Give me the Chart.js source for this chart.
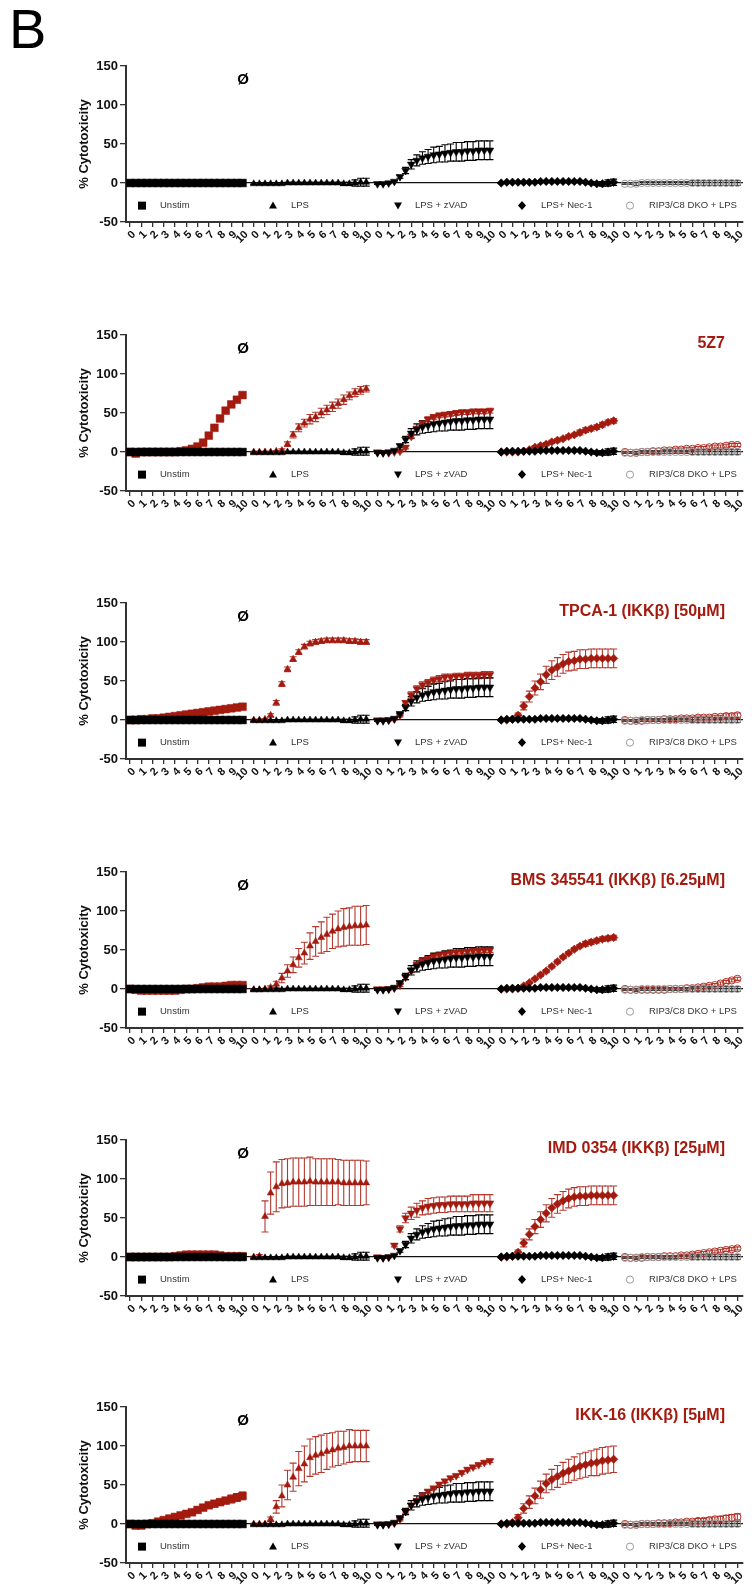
<!DOCTYPE html>
<html>
<head>
<meta charset="utf-8">
<script src="https://cdn.jsdelivr.net/npm/chart.js@4.4.1/dist/chart.umd.min.js"></script>
<style>
  body { margin: 0; width: 755px; height: 1585px; overflow: hidden; background: #fff; position: relative;
         font-family: "Liberation Sans", Arial, sans-serif; }
  .panel { position: absolute; left: 0; }
  .letter { position: absolute; left: 9px; top: -4px; font-size: 56px; color: #000; }
  .ctrl { position: absolute; left: 243px; font-weight: bold; font-size: 15px; transform: translate(-50%, -50%); }
  .drug { position: absolute; right: 30px; font-weight: bold; font-size: 16px; color: #a31a0f; transform: translateY(-50%); }
</style>
</head>
<body>
<div class="letter">B</div>
<div id="wrap"></div>
<script>
// sampling times within each block (hours) and the axis tick labels
const hours = [0, 0.5, 1, 1.5, 2, 2.5, 3, 3.5, 4, 4.5, 5, 5.5, 6, 6.5, 7, 7.5, 8, 8.5, 9, 9.5, 10];
const tickHours = [0, 1, 2, 3, 4, 5, 6, 7, 8, 9, 10];
const yTicks = [-50, 0, 50, 100, 150];
const groupNames = ['Unstim', 'LPS', 'LPS + zVAD', 'LPS+ Nec-1', 'RIP3/C8 DKO + LPS'];
const drugNames = ['5Z7', 'TPCA-1 (IKKβ) [50µM]', 'BMS 345541 (IKKβ) [6.25µM]', 'IMD 0354 (IKKβ) [25µM]', 'IKK-16 (IKKβ) [5µM]'];

// untreated control (black, same in every panel)
const ctlUnstim = [0,0,0,0,0,0,0,0,0,0,0,0,0,0,0,0,0,0,0,0,0];
const ctlUnstimErr = [0,0,0,0,0,0,0,0,0,0,0,0,0,0,0,0,0,0,0,0,0];
const ctlLps = [-1,-1,-1,-1,-1,-1,0,0,0,0,0,0,0,0,0,0,-1,-1,0,1,1];
const ctlLpsErr = [1,1,1,1,1,1,1,1,1,1,1,1,1,1,1,1,2,2,4,5,5];
const ctlZvad = [-1,-1,0,2,8,16,24,29,32,34,36,37,38,39,40,40,41,41,42,42,42];
const ctlZvadErr = [1,1,1,1,2,4,6,7,8,9,10,10,11,11,12,12,12,12,12,12,12];
const ctlNec = [0,1,1,1,1,1,1,2,2,2,2,2,2,2,2,1,0,-1,-1,0,1];
const ctlNecErr = [1,1,1,1,1,1,1,1,1,1,1,1,1,1,1,1,2,2,3,4,4];
const ctlDko = [-1,-1,-1,0,0,0,0,0,0,0,0,0,0,0,0,0,0,0,0,0,0];
const ctlDkoErr = [1,1,2,2,2,2,2,2,2,2,2,2,3,3,3,3,3,3,3,3,3];

// 5Z7
const z7Unstim = [0,-2,0,0,0,0,0,0,0,1,2,4,7,12,21,31,43,53,61,67,73];
const z7UnstimErr = [1,1,1,1,1,1,1,1,1,1,1,1,1,2,2,2,3,3,3,3,3];
const z7Lps = [0,0,0,0,1,2,10,22,31,37,42,45,50,54,58,62,67,72,76,79,81];
const z7LpsErr = [1,1,1,1,1,2,3,4,5,5,6,6,6,6,6,6,6,5,5,5,4];
const z7Zvad = [0,-1,-1,0,1,6,20,30,37,42,45,47,48,49,50,51,51,52,52,52,53];
const z7ZvadErr = [1,1,1,1,1,2,3,3,3,3,3,3,3,3,3,3,3,3,3,3,3];
const z7Nec = [0,0,0,0,1,3,6,8,10,13,15,17,20,22,25,28,30,32,35,38,40];
const z7NecErr = [1,1,1,1,1,1,2,2,2,2,2,2,2,2,3,3,3,3,3,3,3];
const z7Dko = [0,-1,-1,0,0,1,1,2,2,3,3,4,4,5,5,6,7,7,8,9,9];
const z7DkoErr = [1,1,1,1,1,1,1,1,1,2,2,2,2,2,2,2,2,2,2,2,2];

// TPCA-1
const tpUnstim = [0,0,1,1,2,2,3,4,5,6,7,8,9,10,11,12,13,14,15,16,17];
const tpUnstimErr = [1,1,1,1,1,1,1,1,1,1,1,1,1,2,2,2,2,2,2,2,2];
const tpLps = [0,0,1,6,22,46,65,78,87,94,98,100,101,102,102,102,102,101,101,100,100];
const tpLpsErr = [1,1,1,2,3,3,3,3,3,3,3,3,3,3,3,3,3,3,3,3,3];
const tpZvad = [0,0,0,1,6,22,32,40,45,48,51,53,55,55,56,56,57,57,57,58,58];
const tpZvadErr = [1,1,1,1,2,3,4,4,4,4,4,4,4,4,4,4,4,4,4,4,4];
const tpNec = [0,0,1,6,18,30,41,49,58,64,68,72,75,76,78,78,79,79,79,79,79];
const tpNecErr = [1,1,2,3,5,7,9,10,11,12,12,12,12,12,12,12,12,12,12,12,12];
const tpDko = [0,-1,-1,-1,0,0,0,1,1,1,2,2,2,3,3,3,4,4,5,5,6];
const tpDkoErr = [1,1,1,1,1,1,1,1,2,2,2,2,2,2,2,2,2,2,3,3,3];

// BMS 345541
const bmUnstim = [0,-1,-2,-2,-2,-2,-2,-2,-2,-1,0,0,1,2,3,3,3,4,5,5,5];
const bmUnstimErr = [1,1,1,1,1,1,1,1,1,1,1,1,1,1,1,1,1,1,1,1,1];
const bmLps = [-1,-1,0,2,6,14,23,31,40,46,55,61,66,70,74,77,79,80,81,81,82];
const bmLpsErr = [1,1,1,2,4,6,8,10,12,14,17,19,20,22,22,23,24,24,25,25,25];
const bmZvad = [0,0,0,1,5,15,24,31,36,39,42,44,45,46,47,48,48,49,49,50,50];
const bmZvadErr = [1,1,1,1,2,3,3,3,3,3,3,3,3,3,3,3,3,3,3,3,3];
const bmNec = [0,0,0,1,4,8,13,18,23,29,35,41,46,51,55,58,60,62,64,65,66];
const bmNecErr = [1,1,1,1,1,1,1,2,2,2,2,2,2,2,2,3,3,3,3,3,3];
const bmDko = [0,-1,-1,-1,-1,-1,-1,-1,0,0,0,1,1,2,3,4,5,7,9,11,13];
const bmDkoErr = [1,1,1,1,1,1,1,1,1,1,1,1,1,1,2,2,2,2,2,2,2];

// IMD 0354
const imUnstim = [0,0,0,0,0,0,0,0,1,2,3,3,3,3,3,3,2,1,1,1,1];
const imUnstimErr = [1,1,1,1,1,1,1,1,1,1,1,1,1,1,1,1,1,1,1,1,1];
const imLps = [0,1,52,82,90,94,95,96,96,96,97,96,96,96,96,96,95,95,95,95,95];
const imLpsErr = [1,2,20,27,32,31,31,31,31,31,31,30,30,30,30,29,29,29,29,29,28];
const imZvad = [0,-1,0,15,36,50,56,60,63,65,66,67,67,68,68,68,68,69,69,69,69];
const imZvadErr = [1,1,1,2,4,6,8,9,9,10,10,10,10,10,10,10,10,11,11,11,11];
const imNec = [0,0,1,6,18,29,39,48,56,63,68,72,75,77,78,78,79,79,79,79,79];
const imNecErr = [1,1,2,3,5,7,9,10,11,12,12,12,12,12,12,12,12,12,12,12,12];
const imDko = [0,-1,-1,-1,0,0,0,1,1,1,2,2,3,4,5,6,7,8,9,10,11];
const imDkoErr = [1,1,1,1,1,1,1,1,1,1,1,1,2,2,2,2,2,2,2,2,2];

// IKK-16
const ikUnstim = [0,-2,-2,0,1,3,5,7,9,11,13,15,18,21,24,26,28,30,32,34,36];
const ikUnstimErr = [1,1,1,1,1,1,1,2,2,2,2,2,3,3,3,4,4,4,5,5,5];
const ikLps = [0,0,0,6,22,36,50,60,71,77,85,88,90,93,95,97,98,100,100,100,100];
const ikLpsErr = [1,1,1,3,8,14,19,18,22,23,24,24,24,23,22,22,21,21,20,20,20];
const ikZvad = [0,0,0,1,6,16,24,30,37,42,46,51,55,59,62,66,70,73,76,79,81];
const ikZvadErr = [1,1,1,1,2,2,2,2,2,2,2,2,2,2,2,2,2,2,2,2,2];
const ikNec = [0,0,2,8,20,28,36,44,52,57,61,65,68,71,74,76,78,79,81,82,83];
const ikNecErr = [1,1,2,4,6,8,10,11,12,13,14,14,15,15,16,16,16,17,17,17,17];
const ikDko = [0,-1,-1,0,0,0,1,1,1,2,2,3,3,4,4,5,6,6,7,8,9];
const ikDkoErr = [1,1,1,1,1,1,1,1,2,2,2,2,2,3,3,3,3,4,4,4,4];

const ctlVals = [ctlUnstim, ctlLps, ctlZvad, ctlNec, ctlDko];
const ctlErrs = [ctlUnstimErr, ctlLpsErr, ctlZvadErr, ctlNecErr, ctlDkoErr];
const drugVals = [
  [z7Unstim, z7Lps, z7Zvad, z7Nec, z7Dko],
  [tpUnstim, tpLps, tpZvad, tpNec, tpDko],
  [bmUnstim, bmLps, bmZvad, bmNec, bmDko],
  [imUnstim, imLps, imZvad, imNec, imDko],
  [ikUnstim, ikLps, ikZvad, ikNec, ikDko]
];
const drugErrs = [
  [z7UnstimErr, z7LpsErr, z7ZvadErr, z7NecErr, z7DkoErr],
  [tpUnstimErr, tpLpsErr, tpZvadErr, tpNecErr, tpDkoErr],
  [bmUnstimErr, bmLpsErr, bmZvadErr, bmNecErr, bmDkoErr],
  [imUnstimErr, imLpsErr, imZvadErr, imNecErr, imDkoErr],
  [ikUnstimErr, ikLpsErr, ikZvadErr, ikNecErr, ikDkoErr]
];

// layout
const FONT = '"Liberation Sans", Arial, sans-serif';
const RED = '#a31a0f';
const RED_ERR = '#b3392f';
const GROUP_SPAN = 11;
const plotTops = [66, 335, 603, 872, 1140, 1407];
const PAD_TOP = 26, PLOT_H = 156, CANVAS_H = 250;
const legendMarkX = [142, 273, 398, 522, 630];
const legendTextX = [160, 291, 415, 541, 649];

const markers = [
  { pointStyle: 'rect', radius: 5.5, rotation: 0 },
  { pointStyle: 'triangle', radius: 4, rotation: 0 },
  { pointStyle: 'triangle', radius: 4.5, rotation: 180 },
  { pointStyle: 'rectRot', radius: 4.2, rotation: 0 },
  { pointStyle: 'circle', radius: 3.6, rotation: 0, open: true }
];

const tickValues = [];
for (let g = 0; g < 5; g++) tickHours.forEach(t => tickValues.push(g * GROUP_SPAN + t));

function makeDataset(g, vals, errs, red) {
  const m = markers[g];
  let fill = red ? RED : '#000';
  let edge = fill;
  if (m.open) { fill = 'rgba(0,0,0,0)'; edge = red ? '#b0332a' : '#9a9a9a'; }
  return {
    data: hours.map((h, i) => ({ x: g * GROUP_SPAN + h, y: vals[i] })),
    errors: errs,
    errorColor: red ? RED_ERR : (m.open ? '#444' : '#000'),
    pointStyle: m.pointStyle,
    pointRadius: m.radius,
    pointRotation: m.rotation,
    backgroundColor: fill,
    borderColor: edge,
    borderWidth: m.open ? 1 : 0.5
  };
}

const errorBars = {
  id: 'errorBars',
  beforeDatasetsDraw(chart) {
    const { ctx, scales: { x, y } } = chart;
    ctx.save();
    ctx.beginPath();
    ctx.rect(chart.chartArea.left, chart.chartArea.top, chart.chartArea.width, chart.chartArea.height);
    ctx.clip();
    // draw in reverse so that the first datasets end up on top
    for (let d = chart.data.datasets.length - 1; d >= 0; d--) {
      const ds = chart.data.datasets[d];
      if (!ds.errors) continue;
      ctx.strokeStyle = ds.errorColor;
      ctx.lineWidth = 1.1;
      ds.data.forEach((p, i) => {
        const e = ds.errors[i];
        if (!e) return;
        const px = x.getPixelForValue(p.x);
        const top = y.getPixelForValue(p.y + e);
        const bot = y.getPixelForValue(p.y - e);
        ctx.beginPath();
        ctx.moveTo(px, top); ctx.lineTo(px, bot);
        ctx.moveTo(px - 3.5, top); ctx.lineTo(px + 3.5, top);
        ctx.moveTo(px - 3.5, bot); ctx.lineTo(px + 3.5, bot);
        ctx.stroke();
      });
    }
    ctx.restore();
  }
};

const groupLegend = {
  id: 'groupLegend',
  afterDraw(chart) {
    const { ctx, scales: { y } } = chart;
    const cy = y.getPixelForValue(-29);
    ctx.save();
    groupNames.forEach((name, i) => {
      const cx = legendMarkX[i];
      ctx.fillStyle = '#000';
      ctx.beginPath();
      if (i === 0) {
        ctx.rect(cx - 4, cy - 4, 8, 8);
        ctx.fill();
      } else if (i === 1) {
        ctx.moveTo(cx, cy - 4); ctx.lineTo(cx + 4, cy + 3); ctx.lineTo(cx - 4, cy + 3);
        ctx.closePath(); ctx.fill();
      } else if (i === 2) {
        ctx.moveTo(cx - 4, cy - 3); ctx.lineTo(cx + 4, cy - 3); ctx.lineTo(cx, cy + 4);
        ctx.closePath(); ctx.fill();
      } else if (i === 3) {
        ctx.moveTo(cx, cy - 4.5); ctx.lineTo(cx + 4, cy); ctx.lineTo(cx, cy + 4.5); ctx.lineTo(cx - 4, cy);
        ctx.closePath(); ctx.fill();
      } else {
        ctx.arc(cx, cy, 3.6, 0, Math.PI * 2);
        ctx.strokeStyle = '#9a9a9a'; ctx.lineWidth = 1; ctx.stroke();
      }
      ctx.fillStyle = '#333';
      ctx.font = '9.5px ' + FONT;
      ctx.textBaseline = 'middle';
      ctx.fillText(name, legendTextX[i], cy);
    });
    ctx.restore();
  }
};

const wrap = document.getElementById('wrap');
plotTops.forEach((top, k) => {
  const holder = document.createElement('div');
  holder.className = 'panel';
  holder.style.top = (top - PAD_TOP) + 'px';
  const canvas = document.createElement('canvas');
  canvas.width = 755; canvas.height = CANVAS_H;
  canvas.style.width = '755px'; canvas.style.height = CANVAS_H + 'px';
  holder.appendChild(canvas);
  wrap.appendChild(holder);

  const ctrl = document.createElement('div');
  ctrl.className = 'ctrl';
  ctrl.style.top = (top + 12) + 'px';
  ctrl.textContent = 'Ø';
  document.body.appendChild(ctrl);

  const datasets = [];
  for (let g = 0; g < 5; g++) datasets.push(makeDataset(g, ctlVals[g], ctlErrs[g], false));
  if (k > 0) {
    for (let g = 0; g < 5; g++) datasets.push(makeDataset(g, drugVals[k - 1][g], drugErrs[k - 1][g], true));
    const drug = document.createElement('div');
    drug.className = 'drug';
    drug.style.top = (top + 8) + 'px';
    drug.textContent = drugNames[k - 1];
    document.body.appendChild(drug);
  }

  new Chart(canvas, {
    type: 'scatter',
    data: { datasets: datasets },
    plugins: [errorBars, groupLegend],
    options: {
      responsive: false,
      animation: false,
      events: [],
      layout: { padding: { top: PAD_TOP, right: 12, left: 0, bottom: 0 } },
      plugins: { legend: { display: false }, tooltip: { enabled: false } },
      scales: {
        x: {
          type: 'linear',
          min: -0.36,
          max: 54.5,
          afterBuildTicks: s => { s.ticks = tickValues.map(v => ({ value: v })); },
          afterFit: s => { s.height = CANVAS_H - PAD_TOP - PLOT_H; },
          ticks: {
            autoSkip: false, minRotation: 45, maxRotation: 45, padding: 1, labelOffset: 4,
            color: '#111', font: { family: FONT, size: 11, weight: 'bold' },
            callback: (v, i) => String(tickHours[i % tickHours.length])
          },
          grid: { drawOnChartArea: false, drawTicks: true, tickLength: 5, color: '#333', lineWidth: 1.3 },
          border: { display: true, color: '#333', width: 2 }
        },
        y: {
          min: -50,
          max: 150,
          afterBuildTicks: s => { s.ticks = yTicks.map(v => ({ value: v })); },
          afterFit: s => { s.width = 126; },
          ticks: { color: '#111', padding: 2, font: { family: FONT, size: 13, weight: 'bold' } },
          grid: {
            drawTicks: true, tickLength: 6, tickColor: '#333', lineWidth: 1.3,
            color: c => (c.tick && c.tick.value === 0) ? '#111' : 'rgba(0,0,0,0)'
          },
          border: { display: true, color: '#333', width: 2 },
          title: {
            display: true, text: '% Cytotoxicity', color: '#111',
            font: { family: FONT, size: 13, weight: 'bold' },
            padding: { top: 77, bottom: 0 }
          }
        }
      }
    }
  });
});
</script>
</body>
</html>
